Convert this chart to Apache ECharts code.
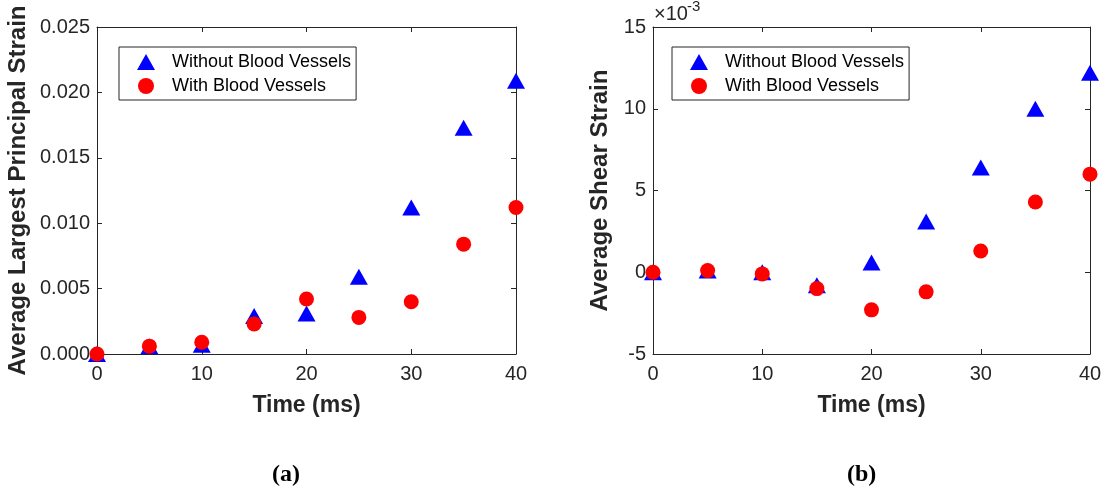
<!DOCTYPE html>
<html>
<head>
<meta charset="utf-8">
<script src="https://cdn.jsdelivr.net/npm/echarts@6/dist/echarts.min.js"></script>
<style>
html,body{margin:0;padding:0;background:#fff;}
#main{width:1107px;height:497px;}
</style>
</head>
<body>
<div id="main"></div>
<script>
var times = [0, 5, 10, 15, 20, 25, 30, 35, 40];
// (a) average largest principal strain
var principalWithout = [0.0000, 0.0006, 0.0007, 0.0029, 0.0031, 0.0059, 0.0112, 0.0173, 0.0209];
var principalWith    = [0.0000, 0.0006, 0.0009, 0.0023, 0.0042, 0.0028, 0.0040, 0.0084, 0.0112];
// (b) average shear strain, in units of 1e-3
var shearWithout = [0.0, 0.1, 0.0, -0.8, 0.6, 3.1, 6.4, 10.0, 12.2];
var shearWith    = [0.0, 0.1, -0.1, -1.0, -2.3, -1.2, 1.3, 4.3, 6.0];

var AX = '#262626';
var FONT = 'Liberation Sans, Arial, sans-serif';

function pairs(ys){
    return times.map(function(t,i){ return [t, ys[i]]; });
}

var lineStyle = {show:true, onZero:false, lineStyle:{color:AX, width:1}};
var tickStyle = {show:true, inside:true, length:5, lineStyle:{color:AX}};

function bottomAxis(g){
    return {
        type:'value', gridIndex:g, min:0, max:40, interval:10, position:'bottom',
        name:'Time (ms)', nameLocation:'middle', nameGap:40,
        nameTextStyle:{color:AX, fontSize:23, fontWeight:'bold', fontFamily:FONT},
        axisLine:lineStyle, axisTick:tickStyle,
        axisLabel:{color:AX, fontSize:20, fontFamily:FONT, margin:10},
        splitLine:{show:false}
    };
}
function topAxis(g){
    return {
        type:'value', gridIndex:g, min:0, max:40, interval:10, position:'top',
        axisLine:lineStyle, axisTick:tickStyle,
        axisLabel:{show:false}, splitLine:{show:false}
    };
}
function leftAxis(g, min, max, step, name, gap, fmt){
    return {
        type:'value', gridIndex:g, min:min, max:max, interval:step, position:'left',
        name:name, nameLocation:'middle', nameGap:gap,
        nameTextStyle:{color:AX, fontSize:24, fontWeight:'bold', fontFamily:FONT},
        axisLine:lineStyle, axisTick:tickStyle,
        axisLabel:{color:AX, fontSize:20, fontFamily:FONT, margin:7, formatter:fmt},
        splitLine:{show:false}
    };
}
function rightAxis(g, min, max, step){
    return {
        type:'value', gridIndex:g, min:min, max:max, interval:step, position:'right',
        axisLine:lineStyle, axisTick:tickStyle,
        axisLabel:{show:false}, splitLine:{show:false}
    };
}
function legendAt(left){
    return {
        left:left, top:47, orient:'vertical',
        data:[{name:'Without Blood Vessels', icon:'triangle'}, {name:'With Blood Vessels', icon:'circle'}],
        itemWidth:18, itemHeight:16, itemGap:6,
        padding:[6, 5, 5, 18],
        borderColor:AX, borderWidth:1, backgroundColor:'#fff',
        textStyle:{color:'#000', fontSize:18, fontFamily:FONT, padding:[0,0,0,12]},
        selectedMode:false
    };
}

var myChart = echarts.init(document.getElementById('main'));
var option = {
    animation:false,
    backgroundColor:'#fff',
    grid:[
        {left:97, right:591, top:27, bottom:143},
        {left:653, right:17, top:27, bottom:143}
    ],
    legend:[legendAt(119), legendAt(672)],
    xAxis:[bottomAxis(0), topAxis(0), bottomAxis(1), topAxis(1)],
    yAxis:[
        leftAxis(0, 0, 0.025, 0.005, 'Average Largest Principal Strain', 67, function(v){ return v.toFixed(3); }),
        rightAxis(0, 0, 0.025, 0.005),
        leftAxis(1, -5, 15, 5, 'Average Shear Strain', 41, function(v){ return String(v); }),
        rightAxis(1, -5, 15, 5)
    ],
    series:[
        {name:'Without Blood Vessels', type:'scatter', xAxisIndex:0, yAxisIndex:0, symbol:'triangle', symbolSize:[18,16], itemStyle:{color:'#0000ff', opacity:1}, data:pairs(principalWithout)},
        {name:'With Blood Vessels', type:'scatter', xAxisIndex:0, yAxisIndex:0, symbol:'circle', symbolSize:15, itemStyle:{color:'#ff0000', opacity:1}, data:pairs(principalWith)},
        {name:'Without Blood Vessels', type:'scatter', xAxisIndex:2, yAxisIndex:2, symbol:'triangle', symbolSize:[18,16], itemStyle:{color:'#0000ff', opacity:1}, data:pairs(shearWithout)},
        {name:'With Blood Vessels', type:'scatter', xAxisIndex:2, yAxisIndex:2, symbol:'circle', symbolSize:15, itemStyle:{color:'#ff0000', opacity:1}, data:pairs(shearWith)}
    ],
    graphic:[
        {type:'text', left:654, top:4, style:{text:'\u00d710', fontSize:20, fontFamily:FONT, fill:AX}},
        {type:'text', left:687, top:-1, style:{text:'-3', fontSize:15, fontFamily:FONT, fill:AX}},
        {type:'text', left:272, top:463, style:{text:'(a)', fontSize:24, fontWeight:'bold', fontFamily:'Liberation Serif, serif', fill:'#000'}},
        {type:'text', left:847, top:463, style:{text:'(b)', fontSize:24, fontWeight:'bold', fontFamily:'Liberation Serif, serif', fill:'#000'}}
    ]
};
myChart.setOption(option);
</script>
</body>
</html>
